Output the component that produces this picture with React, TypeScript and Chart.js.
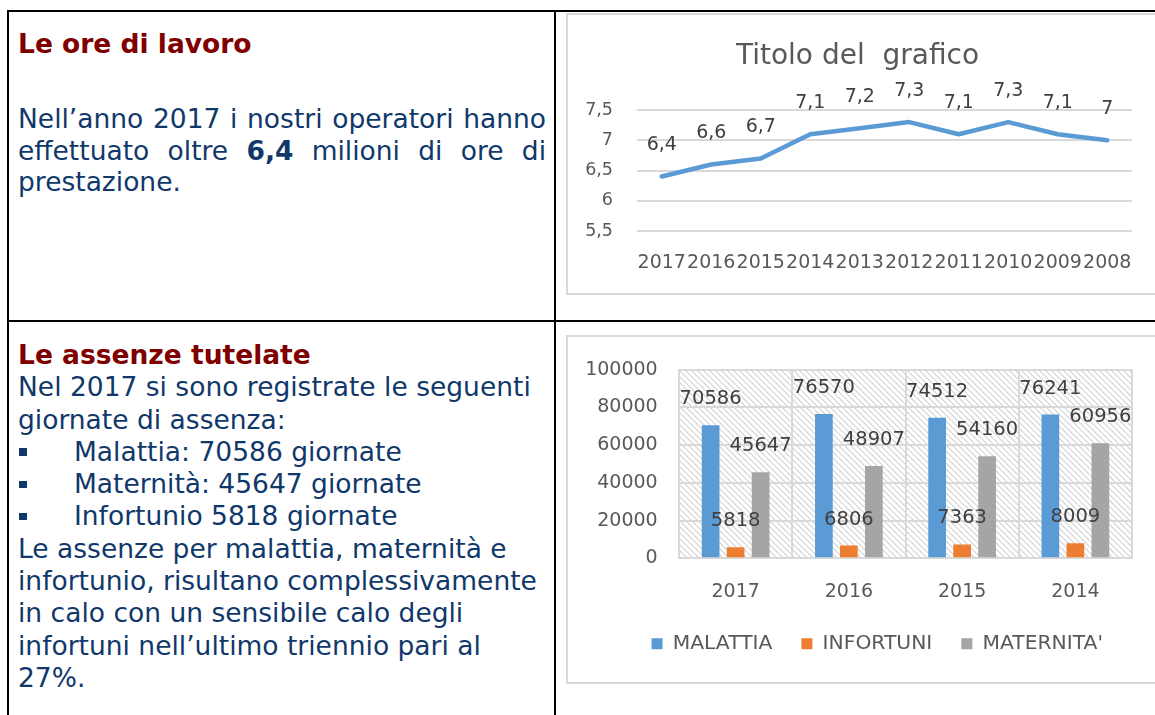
import React, { useEffect, useRef } from "react";
import { Chart, registerables } from "chart.js";

Chart.register(...registerables);

// ---------- data ----------
const lineYears = ["2017", "2016", "2015", "2014", "2013", "2012", "2011", "2010", "2009", "2008"];
const oreLavoro = [6.4, 6.6, 6.7, 7.1, 7.2, 7.3, 7.1, 7.3, 7.1, 7.0];
const lineAxisMin = 5.5;
const lineAxisMax = 7.5;
const lineAxisStep = 0.5;
const lineTitle = "Titolo del  grafico";

const barYears = ["2017", "2016", "2015", "2014"];
const malattia = [70586, 76570, 74512, 76241];
const infortuni = [5818, 6806, 7363, 8009];
const maternita = [45647, 48907, 54160, 60956];
const seriesNames = ["MALATTIA", "INFORTUNI", "MATERNITA'"];
const barAxisMin = 0;
const barAxisMax = 100000;
const barAxisStep = 20000;

const FONT = "'DejaVu Sans', Verdana, sans-serif";
const NAVY = "#10386A";
const DARKRED = "#800000";

const fmtComma = (v: number) => String(v).replace(".", ",");

function labelPlugin(offset: number, size: number, fmt: (v: number) => string) {
  return {
    id: "dataLabels",
    afterDatasetsDraw(chart: any) {
      const ctx = chart.ctx;
      ctx.save();
      ctx.font = `${size}px ${FONT}`;
      ctx.fillStyle = "#404040";
      ctx.textAlign = "center";
      ctx.textBaseline = "middle";
      chart.data.datasets.forEach((ds: any, i: number) => {
        const meta = chart.getDatasetMeta(i);
        meta.data.forEach((el: any, j: number) => {
          ctx.fillText(fmt(ds.data[j]), el.x, el.y - offset);
        });
      });
      ctx.restore();
    },
  };
}

const hatchPlugin = {
  id: "hatch",
  beforeDraw(chart: any) {
    const { ctx, chartArea: a } = chart;
    if (!a) return;
    const tile = document.createElement("canvas");
    tile.width = 6;
    tile.height = 6;
    const t = tile.getContext("2d")!;
    t.fillStyle = "#ffffff";
    t.fillRect(0, 0, 6, 6);
    t.strokeStyle = "#D2D2D2";
    t.lineWidth = 1.2;
    t.beginPath();
    for (let k = -1; k <= 1; k++) {
      t.moveTo(k * 6, 0);
      t.lineTo(k * 6 + 6, 6);
    }
    t.stroke();
    const p = ctx.createPattern(tile, "repeat");
    ctx.save();
    ctx.fillStyle = p;
    ctx.fillRect(a.left, a.top, a.right - a.left, a.bottom - a.top);
    ctx.restore();
  },
};

function LineChart() {
  const ref = useRef<HTMLCanvasElement>(null);
  useEffect(() => {
    const chart = new Chart(ref.current!, {
      type: "line",
      data: {
        labels: lineYears,
        datasets: [
          {
            data: oreLavoro,
            borderColor: "#5B9BD5",
            borderWidth: 4.5,
            pointRadius: 0,
            tension: 0,
            borderCapStyle: "round",
            borderJoinStyle: "round",
          },
        ],
      },
      options: {
        responsive: false,
        animation: false,
        layout: { padding: { left: 15, right: 23, top: 0, bottom: 0 } },
        plugins: {
          legend: { display: false },
          tooltip: { enabled: false },
          title: {
            display: true,
            text: lineTitle,
            color: "#595959",
            font: { size: 28, weight: "normal", family: FONT },
            padding: { top: 25, bottom: 36.4 },
          },
        },
        scales: {
          x: {
            offset: true,
            grid: { display: false, drawTicks: false },
            border: { display: false },
            ticks: {
              autoSkip: false,
              maxRotation: 0,
              minRotation: 0,
              padding: 20.6,
              color: "#595959",
              font: { size: 19, family: FONT },
            },
            afterFit: (s: any) => {
              s.height = 62;
            },
          },
          y: {
            min: lineAxisMin,
            max: lineAxisMax,
            ticks: {
              stepSize: lineAxisStep,
              padding: 24,
              color: "#595959",
              font: { size: 17.5, family: FONT },
              callback: (v: any) => fmtComma(Number(v)),
            },
            grid: { color: "#D9D9D9", lineWidth: 2, drawTicks: false },
            border: { display: false },
            afterFit: (s: any) => {
              s.width = 54;
            },
          },
        },
      } as any,
      plugins: [labelPlugin(31.5, 19, fmtComma)],
    });
    return () => chart.destroy();
  }, []);
  return <canvas ref={ref} width={587} height={278} style={{ position: "absolute", left: 568, top: 15, width: 587, height: 278 }} />;
}

function BarChart() {
  const ref = useRef<HTMLCanvasElement>(null);
  useEffect(() => {
    const common = { categoryPercentage: 0.662, barPercentage: 0.708 };
    const chart = new Chart(ref.current!, {
      type: "bar",
      data: {
        labels: barYears,
        datasets: [
          { label: seriesNames[0], data: malattia, backgroundColor: "#5B9BD5", ...common },
          { label: seriesNames[1], data: infortuni, backgroundColor: "#ED7D31", ...common },
          { label: seriesNames[2], data: maternita, backgroundColor: "#A5A5A5", ...common },
        ],
      },
      options: {
        responsive: false,
        animation: false,
        layout: { padding: { left: 10, right: 23, top: 27.3, bottom: 18 } },
        plugins: {
          tooltip: { enabled: false },
          legend: {
            position: "bottom",
            align: "end",
            labels: {
              boxWidth: 11,
              boxHeight: 11,
              padding: 29,
              color: "#595959",
              font: { size: 20.3, family: FONT },
            },
          },
        },
        scales: {
          x: {
            grid: { color: "#D9D9D9", lineWidth: 2, drawTicks: false },
            border: { display: true, color: "#D9D9D9", width: 2 },
            ticks: {
              padding: 22.6,
              color: "#595959",
              font: { size: 19, family: FONT },
              maxRotation: 0,
              autoSkip: false,
            },
            afterFit: (s: any) => {
              s.height = 46.4;
            },
          },
          y: {
            min: barAxisMin,
            max: barAxisMax,
            ticks: {
              stepSize: barAxisStep,
              padding: 21.3,
              color: "#595959",
              font: { size: 19, family: FONT },
              callback: (v: any) => String(v),
            },
            grid: { color: "#D9D9D9", lineWidth: 2, drawTicks: false },
            border: { display: true, color: "#D9D9D9", width: 2 },
            afterFit: (s: any) => {
              s.width = 101;
            },
          },
        },
      } as any,
      plugins: [hatchPlugin, labelPlugin(26, 19.5, (v) => String(v))],
    });
    return () => chart.destroy();
  }, []);
  return <canvas ref={ref} width={587} height={345} style={{ position: "absolute", left: 568, top: 337, width: 587, height: 345 }} />;
}

const line = (l: number, t: number, w: number, h: number, c: string) => (
  <div style={{ position: "absolute", left: l, top: t, width: w, height: h, background: c }} />
);

function Bullet({ children }: { children: React.ReactNode }) {
  return (
    <div style={{ position: "relative", paddingLeft: 56, whiteSpace: "nowrap" }}>
      <span style={{ position: "absolute", left: 1, top: 12.5, width: 7.5, height: 7.5, background: NAVY }} />
      {children}
    </div>
  );
}

export default function App() {
  const textBase: React.CSSProperties = {
    position: "absolute",
    left: 18,
    fontFamily: FONT,
    fontSize: 26.5,
    color: NAVY,
  };
  const just: React.CSSProperties = { textAlign: "justify", textAlignLast: "justify" as any, whiteSpace: "nowrap" };
  return (
    <div style={{ position: "absolute", left: 0, top: 0, width: 1155, height: 715, overflow: "hidden", background: "#fff" }}>
      {/* table borders */}
      {line(7, 10, 1148, 2, "#000")}
      {line(7, 10, 2, 705, "#000")}
      {line(554, 10, 2, 705, "#000")}
      {line(7, 320, 1148, 2, "#000")}

      {/* chart frames */}
      <div style={{ position: "absolute", left: 566, top: 13, width: 600, height: 278, border: "2px solid #D9D9D9" }} />
      <div style={{ position: "absolute", left: 566, top: 335, width: 600, height: 345, border: "2px solid #D9D9D9" }} />

      {/* section 1 */}
      <div style={{ ...textBase, top: 27.7, lineHeight: "32.3px", fontWeight: "bold", color: DARKRED, whiteSpace: "nowrap" }}>
        Le ore di lavoro
      </div>
      <div style={{ ...textBase, top: 103.3, width: 528, lineHeight: "31.6px" }}>
        <div style={just}>Nell’anno 2017 i nostri operatori hanno</div>
        <div style={just}>
          effettuato oltre <b>6,4</b> milioni di ore di
        </div>
        <div style={{ whiteSpace: "nowrap" }}>prestazione.</div>
      </div>

      {/* section 2 */}
      <div style={{ ...textBase, top: 339, lineHeight: "32.3px" }}>
        <div style={{ fontWeight: "bold", color: DARKRED, whiteSpace: "nowrap" }}>Le assenze tutelate</div>
        <div style={{ whiteSpace: "nowrap" }}>Nel 2017 si sono registrate le seguenti</div>
        <div style={{ whiteSpace: "nowrap" }}>giornate di assenza:</div>
        <Bullet>Malattia: 70586 giornate</Bullet>
        <Bullet>Maternità: 45647 giornate</Bullet>
        <Bullet>Infortunio 5818 giornate</Bullet>
        <div style={{ whiteSpace: "nowrap" }}>Le assenze per malattia, maternità e</div>
        <div style={{ whiteSpace: "nowrap" }}>infortunio, risultano complessivamente</div>
        <div style={{ whiteSpace: "nowrap" }}>in calo con un sensibile calo degli</div>
        <div style={{ whiteSpace: "nowrap" }}>infortuni nell’ultimo triennio pari al</div>
        <div style={{ whiteSpace: "nowrap" }}>27%.</div>
      </div>

      <LineChart />
      <BarChart />
    </div>
  );
}
